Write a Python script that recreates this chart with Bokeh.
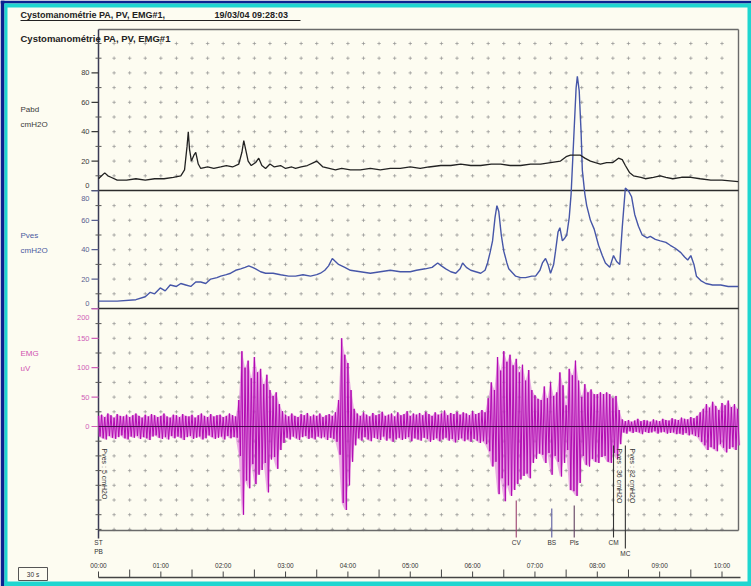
import math
from bokeh.plotting import figure
from bokeh.models import Range1d
from bokeh.embed import file_html
from bokeh.resources import INLINE
from bokeh.core.properties import value

# ---------------------------------------------------------------- data
# abdominal pressure (cmH2O) against time (minutes)
pabd_t = [0.00, 0.05, 0.10, 0.15, 0.20, 0.30, 0.45, 0.60, 0.75, 0.90, 1.05, 1.20,
          1.32, 1.38, 1.42, 1.44, 1.46, 1.49, 1.53, 1.56, 1.60, 1.64, 1.75, 1.85,
          1.96, 2.05, 2.15, 2.25, 2.30, 2.33, 2.36, 2.40, 2.45, 2.52, 2.57, 2.62,
          2.68, 2.75, 2.82, 2.92, 3.00, 3.10, 3.16, 3.25, 3.35, 3.45, 3.50, 3.55,
          3.60, 3.70, 3.80, 3.90, 4.04, 4.20, 4.36, 4.52, 4.68, 4.84, 5.00, 5.16,
          5.30, 5.49, 5.65, 5.81, 5.97, 6.13, 6.30, 6.45, 6.60, 6.77, 6.93, 7.09,
          7.25, 7.41, 7.50, 7.57, 7.65, 7.73, 7.80, 7.89, 7.97, 8.05, 8.15, 8.25,
          8.34, 8.40, 8.45, 8.52, 8.58, 8.70, 8.77, 8.90, 9.01, 9.10, 9.21, 9.35,
          9.50, 9.65, 9.82, 10.00, 10.26]
pabd = [8, 10, 12, 10, 9, 7, 7, 8, 7, 8, 8, 9,
        10, 14, 30, 40, 28, 20, 24, 26, 18, 15, 16, 15,
        16, 17, 16, 18, 26, 34, 28, 20, 17, 19, 22, 17,
        15, 18, 16, 17, 15, 16, 15, 16, 17, 19, 20, 18,
        16, 15, 14, 15, 14, 14, 15, 14, 15, 15, 16, 15,
        16, 17, 17, 18, 17, 17, 18, 18, 17, 17, 18, 18,
        19, 20, 23, 24, 24, 24, 22, 20, 19, 18, 19, 19,
        22, 21, 17, 12, 10, 9, 8, 9, 10, 9, 8, 9,
        9, 8, 7, 7, 6]

# bladder pressure (cmH2O) against time (minutes)
pves_t = [0.00, 0.30, 0.60, 0.75, 0.83, 0.90, 0.99, 1.07, 1.15, 1.25, 1.32, 1.40,
          1.48, 1.56, 1.64, 1.72, 1.80, 1.90, 1.96, 2.05, 2.12, 2.20, 2.28, 2.35,
          2.41, 2.47, 2.52, 2.60, 2.68, 2.80, 2.92, 3.05, 3.16, 3.28, 3.40, 3.50,
          3.56, 3.63, 3.69, 3.75, 3.80, 3.85, 3.95, 4.04, 4.20, 4.36, 4.52, 4.68,
          4.84, 5.00, 5.10, 5.24, 5.35, 5.44, 5.50, 5.57, 5.65, 5.73, 5.80, 5.84,
          5.90, 5.97, 6.05, 6.13, 6.20, 6.24, 6.28, 6.32, 6.36, 6.39, 6.42, 6.46,
          6.50, 6.55, 6.58, 6.69, 6.77, 6.85, 6.95, 7.01, 7.08, 7.12, 7.17, 7.21,
          7.25, 7.30, 7.33, 7.37, 7.40, 7.44, 7.48, 7.51, 7.55, 7.58, 7.62, 7.66,
          7.68, 7.71, 7.74, 7.76, 7.80, 7.83, 7.89, 7.95, 8.02, 8.08, 8.13, 8.20,
          8.26, 8.31, 8.36, 8.40, 8.45, 8.50, 8.55, 8.60, 8.66, 8.72, 8.80, 8.85,
          8.93, 9.01, 9.10, 9.17, 9.25, 9.34, 9.40, 9.45, 9.50, 9.55, 9.59, 9.66,
          9.74, 9.85, 9.98, 10.10, 10.26]
pves = [5, 5, 6, 8, 11, 10, 14, 12, 16, 15, 17, 16,
        15, 18, 18, 17, 20, 21, 22, 23, 24, 26, 27, 28,
        29, 28, 27, 25, 24, 24, 23, 22, 22, 23, 22, 23,
        24, 26, 29, 34, 32, 30, 28, 26, 25, 24, 25, 26,
        25, 25, 26, 27, 28, 31, 29, 27, 25, 24, 27, 31,
        28, 26, 25, 24, 26, 31, 38, 46, 62, 70, 66, 50,
        39, 31, 27, 22, 21, 21, 22, 22, 26, 31, 34, 30,
        24, 30, 39, 52, 55, 46, 48, 50, 62, 78, 114, 150,
        158, 148, 120, 94, 78, 70, 60, 54, 43, 36, 31, 28,
        36, 32, 30, 55, 82, 80, 76, 64, 56, 50, 48, 49,
        47, 46, 45, 43, 41, 38, 35, 33, 36, 30, 22, 19,
        17, 16, 16, 15, 15]

# EMG activity (uV): upper and lower excursion, one pair every 3 s
emg_hi = [18, 20, 16, 22, 19, 15, 21, 18, 17, 20, 16, 19, 22, 18, 15, 20, 17, 21, 19, 16,
          18, 22, 17, 15, 20, 19, 16, 21, 18, 17, 20, 15, 19, 22, 18, 16, 21, 17, 19, 20,
          16, 18, 22, 19, 17,
          45, 128, 100, 112, 82, 118, 92, 98, 72, 88, 62, 52, 58, 38, 26,
          20, 17, 22, 18, 16, 21, 19, 23, 17, 20, 18, 22, 16, 19, 21, 18, 24,
          45, 150, 122, 108, 62, 30,
          22, 18, 24, 20, 17, 23, 19, 21, 25, 18, 20, 22, 17, 24, 19, 21, 26, 18, 22, 20,
          23, 19, 25, 21, 18, 24, 20, 22, 27, 19, 23, 21, 25, 20, 24, 22, 19, 26, 21, 23,
          28, 24,
          48, 75, 62, 118, 95, 128, 110, 122, 104, 115, 92, 105, 78, 96, 62, 53, 47,
          45, 68, 48, 75, 52, 58,
          92, 70, 36, 98, 87, 112, 78, 50, 72, 58, 63, 55, 55, 58,
          55, 58, 55, 48, 52, 28,
          12, 9, 11, 8, 10, 13, 9, 11, 10, 8, 12, 10, 9, 13, 11, 10, 14, 12, 11, 15,
          13, 12, 16, 14, 18,
          24, 30, 38, 32, 42, 35, 28, 40, 36, 44, 33, 38, 30]
emg_lo = [-17, -20, -22, -16, -19, -21, -18, -15, -20, -22, -17, -19, -16, -21, -18, -20,
          -23, -17, -15, -19, -21, -18, -22, -16, -20, -17, -19, -23, -18, -16, -21, -19,
          -17, -22, -20, -15, -18, -21, -19, -17, -22, -16, -20, -18, -19,
          -50, -150, -92, -105, -64, -98, -82, -74, -62, -112, -56, -52, -72, -40, -28,
          -19, -22, -17, -20, -23, -18, -16, -21, -19, -22, -17, -20, -18, -23, -19, -21, -26,
          -48, -130, -142, -100, -60, -32,
          -20, -24, -18, -22, -25, -19, -21, -23, -17, -24, -20, -26, -22, -19, -23, -21,
          -18, -25, -20, -22, -24, -19, -21, -26, -23, -20, -25, -22, -19, -24, -21, -27,
          -23, -20, -25, -22, -26, -21, -24, -28, -25, -30,
          -42, -68, -60, -115, -88, -127, -100, -118, -108, -98, -90, -84, -80, -88, -62, -55, -46,
          -48, -62, -45, -82, -50, -60,
          -85, -62, -40, -108, -110, -118, -96, -50, -65, -68, -55, -60, -62, -52,
          -50, -60, -62, -45, -55, -30,
          -10, -12, -8, -11, -9, -10, -13, -9, -11, -10, -8, -12, -10, -9, -12, -11, -10,
          -13, -12, -14, -11, -15, -13, -16, -18,
          -26, -32, -40, -35, -38, -42, -30, -36, -44, -38, -35, -40, -32]
EMG_STEP_MIN = 0.05
emg_t = [round(i * EMG_STEP_MIN, 2) for i in range(len(emg_hi))]

pabd_ticks = [0, 20, 40, 60, 80]
pves_ticks = [0, 20, 40, 60, 80]
emg_ticks = [0, 50, 100, 150, 200]
time_minutes = list(range(0, 11))
time_labels = ["%02d:00" % m for m in time_minutes]

event_names = ["CV", "BS", "Pls", "CM", "MC"]
event_t = [6.70, 7.27, 7.63, 8.26, 8.45]
pves_marks_t = [0.00, 8.26, 8.45]      # instants annotated with the bladder pressure

# ---------------------------------------------------------------- page geometry
W, H = 751, 586
FONT = "Liberation Sans"
BG = "#fdfcf1"
NAVY, CYAN = "#0c2290", "#1fd6d0"
X0 = 98.0            # page x of 00:00
PX_MIN = 62.35       # pixels per minute
FR_L, FR_T, FR_R, FR_B = 98, 29, 738, 530
SEP1, SEP2 = 190, 308
BASE = {"pabd": 190.0, "pves": 308.0, "emg": 426.0}   # page y of each zero line
SCALE = {"pabd": 1.47, "pves": 1.47, "emg": 0.588}    # pixels per unit

p = figure(width=W, height=H, output_backend="svg", toolbar_location=None,
           x_axis_type=None, y_axis_type=None, min_border=0,
           x_range=Range1d(-X0 / PX_MIN, (W - X0) / PX_MIN),
           y_range=Range1d(H, 0))
p.min_border_left = p.min_border_right = p.min_border_top = p.min_border_bottom = 0
p.outline_line_color = None
p.background_fill_color = BG
p.border_fill_color = BG
p.extra_x_ranges = {"px": Range1d(0, W)}
p.extra_y_ranges = {k: Range1d((BASE[k] - H) / SCALE[k], BASE[k] / SCALE[k]) for k in BASE}

# window border: (left, right, top, bottom) bands
navy = [(0, W, 0, 3), (0, 4, 0, H)]
cyan = [(4, W, 3, 7), (4, 7, 3, H), (4, W, H - 5, H), (W - 4, W, 3, H)]
for bands, col in ((navy, NAVY), (cyan, CYAN)):
    p.quad(left=[b[0] for b in bands], right=[b[1] for b in bands],
           top=[b[2] for b in bands], bottom=[b[3] for b in bands],
           x_range_name="px", fill_color=col, line_color=None)

# dotted grid
cols = [0.25 * k for k in range(1, 41)]
def dots(rows, rname):
    xs = [c for r in rows for c in cols]
    ys = [r for r in rows for c in cols]
    p.scatter(xs, ys, marker="cross", size=3.5, line_color="#8c8c8c", line_alpha=0.65,
              line_width=1, y_range_name=rname)
dots(list(range(10, 101, 10)), "pabd")
dots(list(range(10, 71, 10)), "pves")
dots([v for v in range(-175, 176, 25) if v != 0], "emg")

# frame and panel separators
p.segment(x0=[FR_L, FR_R, FR_L], y0=[FR_T, FR_T, FR_B], x1=[FR_R, FR_R, FR_R],
          y1=[FR_T, FR_B, FR_B], x_range_name="px", line_color="#6a6a6a", line_width=1.4)
p.segment(x0=[FR_L, FR_L], y0=[SEP1, SEP2], x1=[FR_R, FR_R], y1=[SEP1, SEP2],
          x_range_name="px", line_color="#2c2c2c", line_width=1.6)
p.segment(x0=[FR_L], y0=[FR_T], x1=[FR_L], y1=[538], x_range_name="px",
          line_color="#3a3a55", line_width=1.5)

# left scales
def scale(ticks, minors, rname, color, nudges):
    p.segment(x0=[91] * len(ticks), y0=ticks, x1=[FR_L] * len(ticks), y1=ticks,
              x_range_name="px", y_range_name=rname, line_color=color, line_width=1.2)
    p.segment(x0=[95] * len(minors), y0=minors, x1=[101] * len(minors), y1=minors,
              x_range_name="px", y_range_name=rname, line_color="#555555", line_width=1)
    p.text(x=[89] * len(ticks), y=ticks, text=[str(t) for t in ticks], y_offset=nudges,
           x_range_name="px", y_range_name=rname, text_font=value(FONT),
           text_font_size="7.5px", text_color=color, text_align="right",
           text_baseline="middle")
scale(pabd_ticks, [10, 30, 50, 70, 90, 100], "pabd", "#3a3a3a", [-5, 0, 0, 0, 0])
scale(pves_ticks, [10, 30, 50, 70], "pves", "#5a6090", [-5, 0, 0, 0, 8])
scale(emg_ticks, [25, 75, 125, 175, -25, -50, -75, -100, -125, -150, -175], "emg",
      "#d060b8", [0, 0, 0, 0, 9])

# channel names
def channel(name, unit, y, color):
    p.text(x=[20, 20], y=[y, y + 15], text=[name, unit], x_range_name="px",
           text_font=value(FONT), text_font_size="8px", text_color=color,
           text_baseline="middle")
channel("Pabd", "cmH2O", 109, "#3a3a3a")
channel("Pves", "cmH2O", 235, "#4a5aa0")
channel("EMG", "uV", 353, "#d050b0")

# EMG trace: envelope band, then the signal swinging between the excursions
p.varea(x=emg_t, y1=emg_lo, y2=emg_hi, y_range_name="emg", fill_color="#d34fd3",
        fill_alpha=0.45)
zx, zy = [], []
for t, hi, lo in zip(emg_t, emg_hi, emg_lo):
    zx += [t, t + EMG_STEP_MIN / 2]
    zy += [hi, lo]
p.line(zx, zy, y_range_name="emg", line_color="#e27ae2", line_width=2.4, line_alpha=0.45)
p.line(zx, zy, y_range_name="emg", line_color="#b10cb1", line_width=1.0)
p.line([emg_t[0], emg_t[-1]], [0, 0], y_range_name="emg", line_color="#4a0a50",
       line_width=1.2)

# pressure traces
p.line(pves_t, pves, y_range_name="pves", line_color="#4656a8", line_width=1.4)
p.line(pabd_t, pabd, y_range_name="pabd", line_color="#222222", line_width=1.3)

# events
ev_bottom = [537, 537, 537, 537, 548]
ev_top = [500, 508, 505, 445, 445]
ev_color = ["#9a4070", "#5a5aa0", "#604060", "#333333", "#333333"]
p.segment(x0=event_t, y0=ev_top, x1=event_t, y1=ev_bottom, line_color=ev_color,
          line_width=1.1)
p.text(x=event_t, y=[b + 5 for b in ev_bottom], text=event_names, text_font=value(FONT),
       text_font_size="6.5px", text_color="#333333", text_align="center",
       text_baseline="middle")
p.text(x=[0, 0], y=[542, 551], text=["ST", "PB"], text_font=value(FONT),
       text_font_size="6.5px", text_color="#333333", text_align="center",
       text_baseline="middle")

# bladder pressure read-outs beside the markers
mark_vals = [pves[pves_t.index(t)] for t in pves_marks_t]
p.text(x=pves_marks_t, y=[448] * 3, text=["Pves : %d cmH2O" % v for v in mark_vals],
       x_offset=[6, 6, 7], angle=-math.pi / 2, text_font=value(FONT),
       text_font_size="7px", text_color="#333333", text_align="left",
       text_baseline="middle")

# time scale
half = [0.5 * k for k in range(0, 21)]
p.segment(x0=[0], y0=[577], x1=[(740 - X0) / PX_MIN], y1=[577], line_color="#444444",
          line_width=1.3)
p.segment(x0=half, y0=[569 if h % 1 else 571 for h in half], x1=half, y1=[577] * len(half),
          line_color="#444444", line_width=1)
p.text(x=time_minutes, y=[565] * len(time_minutes), text=time_labels,
       text_font=value(FONT), text_font_size="6.5px", text_color="#333333",
       text_align="center", text_baseline="middle")

# 30 s scale bar
p.quad(left=[18], right=[47], top=[567], bottom=[580], x_range_name="px",
       fill_color=None, line_color="#555555", line_width=1)
p.text(x=[32.5], y=[573.5], text=["30 s"], x_range_name="px", text_font=value(FONT),
       text_font_size="6.5px", text_color="#333333", text_align="center",
       text_baseline="middle")

# headings
p.text(x=[20, 214], y=[14, 14], text=["Cystomanométrie PA, PV, EMG#1,", "19/03/04 09:28:03"],
       x_range_name="px", text_font=value(FONT), text_font_size="9px",
       text_font_style="bold", text_color="#222222", text_baseline="middle")
p.segment(x0=[20], y0=[20], x1=[300], y1=[20], x_range_name="px", line_color="#222222",
          line_width=1)
p.text(x=[20], y=[38], text=["Cystomanométrie PA, PV, EMG#1"], x_range_name="px",
       text_font=value(FONT), text_font_size="9.5px", text_font_style="bold",
       text_color="#222222", text_baseline="middle")

open("out.html", "w").write(file_html(p, INLINE))
